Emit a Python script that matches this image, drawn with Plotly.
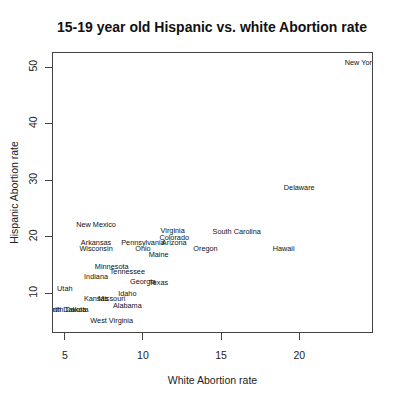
import plotly.graph_objects as go

states = ["New York", "Delaware", "New Mexico", "Virginia", "South Carolina", "Colorado",
          "Arizona", "Pennsylvania", "Arkansas", "Wisconsin", "Ohio", "Oregon", "Hawaii",
          "Maine", "Minnesota", "Tennessee", "Indiana", "Georgia", "Texas", "Utah", "Idaho",
          "Kansas", "Missouri", "Alabama", "North Dakota", "South Dakota", "West Virginia"]
white_rate = [23.9, 20.0, 7.0, 11.9, 16.0, 12.0,
              12.0, 10.0, 7.0, 7.0, 10.0, 14.0, 19.0,
              11.0, 8.0, 9.0, 7.0, 10.0, 11.0, 5.0, 9.0,
              7.0, 8.0, 9.0, 5.0, 5.1, 8.0]
hispanic_rate = [50.7, 28.7, 22.0, 21.0, 20.8, 19.8,
                 18.8, 18.9, 18.8, 17.8, 17.8, 17.9, 17.8,
                 16.8, 14.7, 13.8, 12.8, 12.0, 11.8, 10.8, 9.8,
                 8.9, 8.9, 7.8, 7.0, 7.0, 5.0]
x_ticks = [5, 10, 15, 20]
y_ticks = [10, 20, 30, 40, 50]

FONT = "Liberation Sans, Arial, sans-serif"

# page body has an 8px default margin; figure sized so that the plot box lands
# at x 53..372, y 53..332 of the window
OFF = 8
W, H = 400 - OFF, 399 - OFF

fig = go.Figure()
fig.add_trace(go.Scatter(
    x=white_rate, y=hispanic_rate, text=states, mode="text",
    textposition="middle center", cliponaxis=True,
    textfont=dict(family=FONT, size=7.3, color="#111111"),
    hoverinfo="text", showlegend=False))


def pad_range(vals):
    lo, hi = min(vals), max(vals)
    d = (hi - lo) * 0.04
    return [lo - d, hi + d]


fig.update_layout(
    width=W, height=H,
    margin=dict(l=53 - OFF, r=28, t=53 - OFF, b=67),
    paper_bgcolor="white", plot_bgcolor="white",
    font=dict(family=FONT, color="#222222"),
    title=dict(text="<b>15-19 year old Hispanic vs. white Abortion rate</b>",
               x=(212 - OFF) / W, xanchor="center",
               y=1 - (27 - OFF) / H, yanchor="middle", yref="container",
               font=dict(family=FONT, size=14, color="#111111")),
    xaxis=dict(range=pad_range(white_rate), tickvals=x_ticks, ticks="outside",
               ticklen=7, tickcolor="#444444", showgrid=False, zeroline=False,
               showline=True, linecolor="#444444", linewidth=1, mirror=True,
               automargin=False, ticklabelstandoff=6,
               tickfont=dict(size=10.5, color="#222222"),
               title=dict(text="White Abortion rate", font=dict(size=10.5, color="#222222"),
                          standoff=17)),
    yaxis=dict(range=pad_range(hispanic_rate), tickvals=y_ticks, ticks="outside",
               ticklen=7, tickcolor="#444444", showgrid=False, zeroline=False,
               showline=True, linecolor="#444444", linewidth=1, mirror=True,
               automargin=False, tickangle=-90, ticklabelstandoff=4,
               tickfont=dict(size=10.5, color="#222222"),
               title=dict(text="Hispanic Abortion rate", font=dict(size=10.5, color="#222222"),
                          standoff=14)),
)

fig.write_html("out.html")
